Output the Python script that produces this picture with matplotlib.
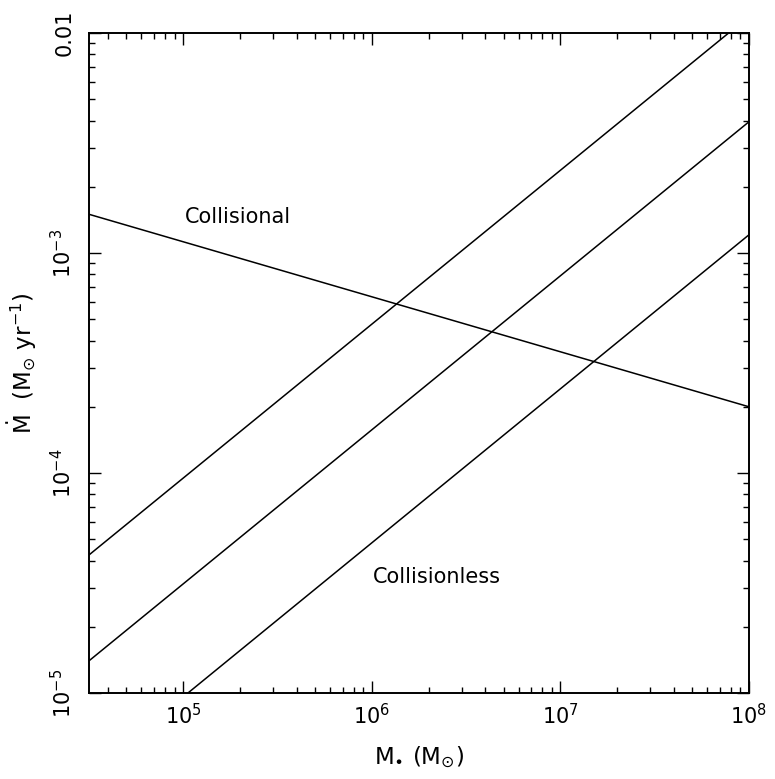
import matplotlib
matplotlib.use("Agg")
import matplotlib.pyplot as plt
from matplotlib.ticker import NullFormatter, LogLocator

# black hole mass range (Msun), endpoints of every line
mass = [10**4.5, 1e8]

# accretion rates (Msun/yr) read at the two mass ends
mdot_collisional = [1.50e-3, 2.0e-4]
mdot_collisionless = [
    [4.24e-5, 1.19e-2],
    [1.40e-5, 3.95e-3],
    [4.29e-6, 1.21e-3],
]

xticks = [1e5, 1e6, 1e7, 1e8]
xticklabels = [r"$10^5$", r"$10^6$", r"$10^7$", r"$10^8$"]
yticks = [1e-5, 1e-4, 1e-3, 1e-2]
yticklabels = [r"$10^{-5}$", r"$10^{-4}$", r"$10^{-3}$", "0.01"]

plt.rcParams["mathtext.default"] = "regular"

fig = plt.figure(figsize=(7.75, 7.79), dpi=100)
ax = fig.add_axes([0.1148, 0.1104, 0.8516, 0.8472])

ax.plot(mass, mdot_collisional, color="black", lw=1.1)
for m in mdot_collisionless:
    ax.plot(mass, m, color="black", lw=1.1)

ax.set_xscale("log")
ax.set_yscale("log")
ax.set_xlim(10**4.5, 1e8)
ax.set_ylim(1e-5, 1e-2)

ax.text(1.02e5, 1.46e-3, "Collisional", fontsize=15, va="center", ha="left")
ax.text(1.01e6, 3.37e-5, "Collisionless", fontsize=15, va="center", ha="left")

ax.set_xticks(xticks)
ax.set_xticklabels(xticklabels, fontsize=15)
ax.set_yticks(yticks)
ax.set_yticklabels(yticklabels, fontsize=15, rotation=90, va="center")
ax.xaxis.set_minor_locator(LogLocator(base=10, subs=range(2, 10)))
ax.yaxis.set_minor_locator(LogLocator(base=10, subs=range(2, 10)))
ax.xaxis.set_minor_formatter(NullFormatter())
ax.yaxis.set_minor_formatter(NullFormatter())

ax.tick_params(which="both", direction="in", top=True, right=True, width=1.0)
ax.tick_params(which="major", length=8.5)
ax.tick_params(which="minor", length=4.3)
ax.tick_params(axis="x", which="major", pad=7)
ax.tick_params(axis="y", which="major", pad=10)
for s in ax.spines.values():
    s.set_linewidth(1.4)

ax.set_xlabel(r"$M_{\bullet}\ (M_{\odot})$", fontsize=16.5, labelpad=12)
ax.set_ylabel(r"$\dot{M}\ \ (M_{\odot}\ yr^{-1})$", fontsize=16.5, labelpad=8)

fig.savefig("out.png", dpi=100)
